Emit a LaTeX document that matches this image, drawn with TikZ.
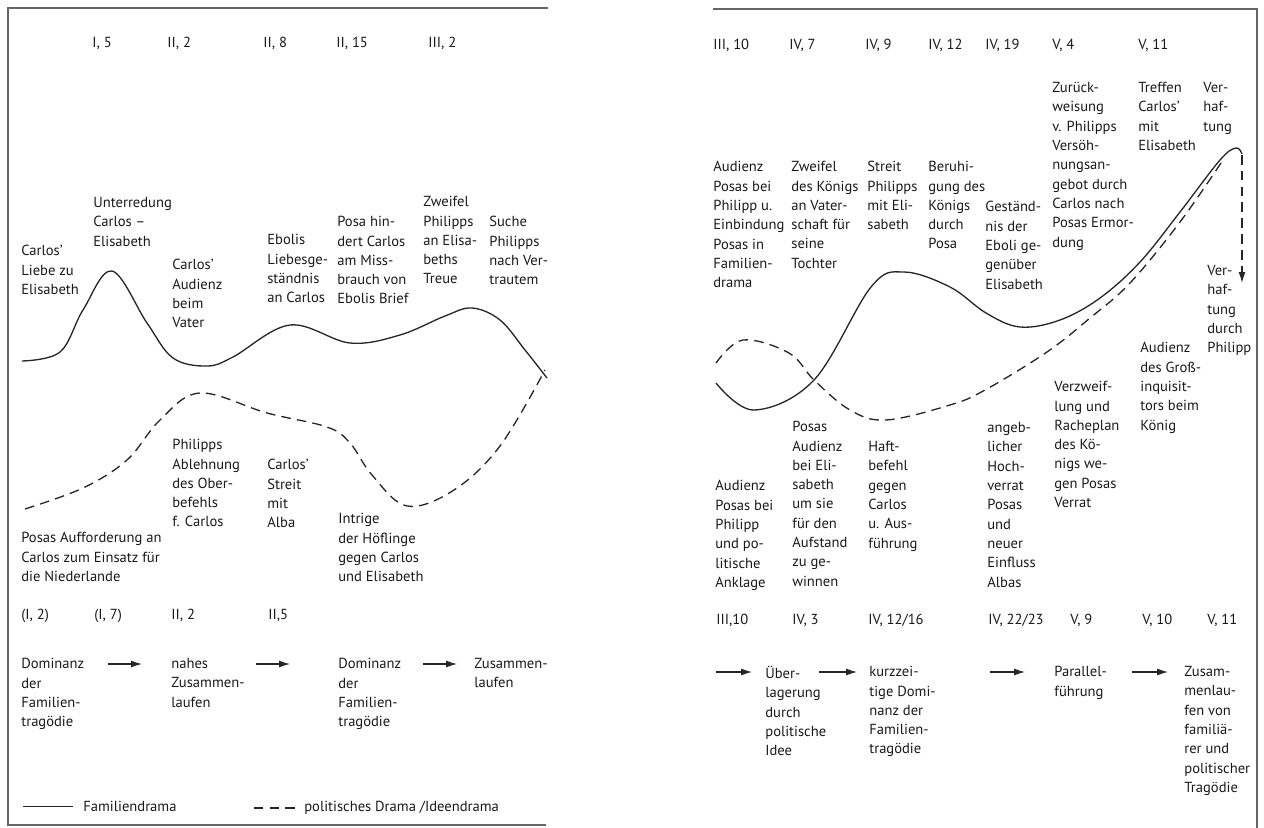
\documentclass[tikz,border=0pt]{standalone}
\usepackage{fontspec}
\setmainfont{PT Sans}
\usetikzlibrary{arrows.meta}
\tikzset{
  event/.style={
    anchor=north west,
    inner sep=0pt,
    align=left,
    text=black!90,
    font=\fontsize{8.3}{11}\selectfont,
  },
  scene ref/.style={
    event,
  },
  family/.style={line width=0.75pt, black!85},
  politics/.style={line width=0.75pt, black!85, dash pattern=on 5.5pt off 3.5pt},
  phase arrow/.style={line width=0.6pt, black!85, -{Latex[length=2.2mm,width=1.4mm]}},
  frame line/.style={draw=black!60, line width=0.9pt}
}

\begin{document}
\begin{tikzpicture}[x=0.02cm, y=-0.02cm]
  \useasboundingbox (0,0) rectangle (1264,828);

  \draw[frame line] (548,8) -- (8,8) -- (8,825) -- (546,825);
  \draw[frame line] (713,9) -- (1257,9) -- (1257,828);

  % first half
  \node[scene ref] (r1) at (92,37) {I, 5};
  \node[scene ref] (r2) at (167,37) {II, 2};
  \node[scene ref] (r3) at (263,37) {II, 8};
  \node[scene ref] (r4) at (336,37) {II, 15};
  \node[scene ref] (r5) at (428,37) {III, 2};

  \node[event] (e1) at (21,245) {Carlos’\\Liebe zu\\Elisabeth};
  \node[event] (e2) at (93,197) {Unterredung\\Carlos –\\Elisabeth};
  \node[event] (e3) at (172,259) {Carlos’\\Audienz\\beim\\Vater};
  \node[event] (e4) at (267,234) {Ebolis\\Liebesge-\\ständnis\\an Carlos};
  \node[event] (e5) at (337,216) {Posa hin-\\dert Carlos\\am Miss-\\brauch von\\Ebolis Brief};
  \node[event] (e6) at (423,196) {Zweifel\\Philipps\\an Elisa-\\beths\\Treue};
  \node[event] (e7) at (489,216) {Suche\\Philipps\\nach Ver-\\trautem};

  \draw[family] plot[smooth, tension=0.6] coordinates {(22,361) (60,352) (83,310) (112,271) (147,323) (173,358) (207,366) (233,357) (290,325) (350,343) (400,335) (445,316) (472,308) (500,320) (525,350) (547,378)};
  \draw[politics] plot[smooth, tension=0.6] coordinates {(25,509) (83,488) (127,460) (160,420) (200,393) (267,413) (327,427) (350,443) (372,475) (407,506) (454,490) (500,446) (545,370)};

  \node[event] (f1) at (21,532) {Posas Aufforderung an\\Carlos zum Einsatz für\\die Niederlande};
  \node[event] (f2) at (172,439) {Philipps\\Ablehnung\\des Ober-\\befehls\\f. Carlos};
  \node[event] (f3) at (267,459) {Carlos’\\Streit\\mit\\Alba};
  \node[event] (f4) at (338,513) {Intrige\\der Höflinge\\gegen Carlos\\und Elisabeth};

  \node[scene ref] (s1) at (21,609) {(I, 2)};
  \node[scene ref] (s2) at (94,609) {(I, 7)};
  \node[scene ref] (s3) at (171,609) {II, 2};
  \node[scene ref] (s4) at (268,609) {II,5};

  \node[event] (g1) at (21,658) {Dominanz\\der\\Familien-\\tragödie};
  \node[event] (g2) at (171,658) {nahes\\Zusammen-\\laufen};
  \node[event] (g3) at (338,658) {Dominanz\\der\\Familien-\\tragödie};
  \node[event] (g4) at (474,658) {Zusammen-\\laufen};
  \coordinate (a1) at (108,664);
  \coordinate (b1) at (142,664);
  \coordinate (a2) at (256,664);
  \coordinate (b2) at (290,664);
  \coordinate (a3) at (423,664);
  \coordinate (b3) at (457,664);
  \draw[phase arrow] (a1) -- (b1);
  \draw[phase arrow] (a2) -- (b2);
  \draw[phase arrow] (a3) -- (b3);

  \node[event] (lg1) at (83,801) {Familiendrama};
  \node[event] (lg2) at (304,801) {politisches Drama /Ideendrama};
  \draw[family] ([xshift=-0.2cm]lg1.west) -- ++(-50,0);
  \draw[politics] ([xshift=-0.18cm]lg2.west) -- ++(-43,0);

  % second half
  \node[scene ref] (R1) at (713,39) {III, 10};
  \node[scene ref] (R2) at (789,39) {IV, 7};
  \node[scene ref] (R3) at (865,39) {IV, 9};
  \node[scene ref] (R4) at (928,39) {IV, 12};
  \node[scene ref] (R5) at (985,39) {IV, 19};
  \node[scene ref] (R6) at (1052,39) {V, 4};
  \node[scene ref] (R7) at (1138,39) {V, 11};

  \node[event] (E1) at (713,161) {Audienz\\Posas bei\\Philipp u.\\Einbindung\\Posas in\\Familien-\\drama};
  \node[event] (E2) at (791,161) {Zweifel\\des Königs\\an Vater-\\schaft für\\seine\\Tochter};
  \node[event] (E3) at (867,161) {Streit\\Philipps\\mit Eli-\\sabeth};
  \node[event] (E4) at (928,161) {Beruhi-\\gung des\\Königs\\durch\\Posa};
  \node[event] (E5) at (985,201) {Geständ-\\nis der\\Eboli ge-\\genüber\\Elisabeth};
  \node[event] (E6) at (1052,82) {Zurück-\\weisung\\v. Philipps\\Versöh-\\nungsan-\\gebot durch\\Carlos nach\\Posas Ermor-\\dung};
  \node[event] (E7) at (1138,82) {Treffen\\Carlos’\\mit\\Elisabeth};
  \node[event] (E8) at (1203,82) {Ver-\\haf-\\tung};

  \draw[family] plot[smooth, tension=0.6] coordinates {(716,383) (754,410) (814,380) (871,287) (904,272) (950,287) (986,313) (1020,327) (1060,320) (1100,298) (1140,262) (1180,212) (1220,160) (1236,148) (1242,154)};
  \draw[politics] plot[smooth, tension=0.6] coordinates {(716,363) (743,340) (789,353) (814,380) (850,410) (886,420) (950,405) (985,390) (1047,352) (1090,318) (1130,283) (1180,222) (1223,160)};
  \coordinate (arrest) at (1242,155);
  \coordinate (arrest end) at (1242,283);
  \draw[politics, -{Latex[length=2.2mm,width=1.4mm]}] (arrest) -- (arrest end);

  \node[event] (F1) at (715,480) {Audienz\\Posas bei\\Philipp\\und po-\\litische\\Anklage};
  \node[event] (F2) at (792,421) {Posas\\Audienz\\bei Eli-\\sabeth\\um sie\\für den\\Aufstand\\zu ge-\\winnen};
  \node[event] (F3) at (868,441) {Haft-\\befehl\\gegen\\Carlos\\u. Aus-\\führung};
  \node[event] (F4) at (987,422) {angeb-\\licher\\Hoch-\\verrat\\Posas\\und\\neuer\\Einfluss\\Albas};
  \node[event] (F5) at (1054,381) {Verzweif-\\lung und\\Racheplan\\des Kö-\\nigs we-\\gen Posas\\Verrat};
  \node[event] (F6) at (1140,342) {Audienz\\des Groß-\\inquisit-\\tors beim\\König};
  \node[event] (F7) at (1207,265) {Ver-\\haf-\\tung\\durch\\Philipp};

  \node[scene ref] (S1) at (716,614) {III,10};
  \node[scene ref] (S2) at (792,614) {IV, 3};
  \node[scene ref] (S3) at (868,614) {IV, 12/16};
  \node[scene ref] (S4) at (988,614) {IV, 22/23};
  \node[scene ref] (S5) at (1070,614) {V, 9};
  \node[scene ref] (S6) at (1142,614) {V, 10};
  \node[scene ref] (S7) at (1207,614) {V, 11};

  \node[event] (G1) at (765,666) {Über-\\lagerung\\durch\\politische\\Idee};
  \node[event] (G2) at (869,666) {kurzzei-\\tige Domi-\\nanz der\\Familien-\\tragödie};
  \node[event] (G3) at (1054,666) {Parallel-\\führung};
  \node[event] (G4) at (1184,666) {Zusam-\\menlau-\\fen von\\familiä-\\rer und\\politischer\\Tragödie};
  \coordinate (A1) at (716,672);
  \coordinate (B1) at (752,672);
  \coordinate (A2) at (819,672);
  \coordinate (B2) at (857,672);
  \coordinate (A3) at (990,672);
  \coordinate (B3) at (1025,672);
  \coordinate (A4) at (1132,672);
  \coordinate (B4) at (1168,672);
  \draw[phase arrow] (A1) -- (B1);
  \draw[phase arrow] (A2) -- (B2);
  \draw[phase arrow] (A3) -- (B3);
  \draw[phase arrow] (A4) -- (B4);
\end{tikzpicture}
\end{document}
